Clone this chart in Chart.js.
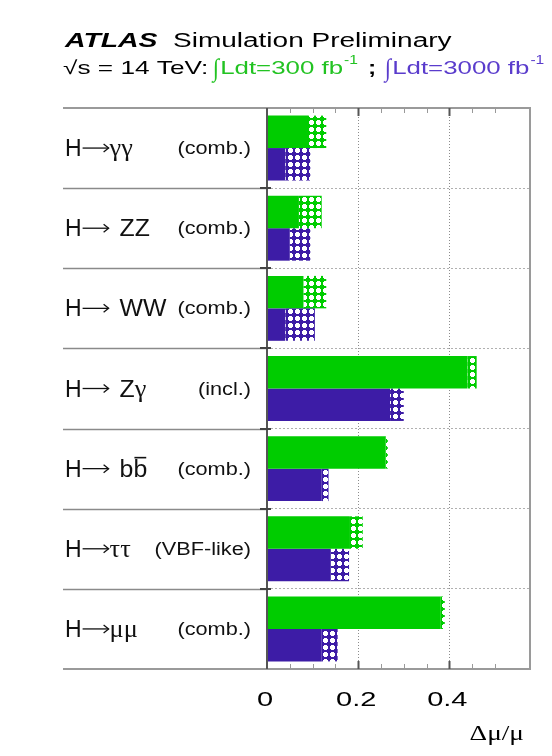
<!DOCTYPE html>
<html>
<head>
<meta charset="utf-8">
<script src="https://cdn.jsdelivr.net/npm/chart.js@4/dist/chart.umd.min.js"></script>
<style>
  html, body { margin: 0; padding: 0; background: #fff; }
  #wrap { width: 552px; height: 756px; }
</style>
</head>
<body>
<div id="wrap"><canvas id="c" width="552" height="756"></canvas></div>
<script>
// Higgs decay channels and the analysis category shown beside each one
const products = ['γγ', 'ZZ', 'WW', 'Zγ', 'bb\u0304', 'ττ', 'μμ'];
const categories = ['(comb.)', '(comb.)', '(comb.)', '(incl.)', '(comb.)', '(VBF-like)', '(comb.)'];
const arrowSpace = [false, true, true, true, true, false, false];

// Relative signal-strength precision Δμ/μ
// statistical + experimental only (solid) and including theory (hatched end)
const stat300   = [0.09, 0.07, 0.08, 0.44, 0.26, 0.18, 0.38];
const total300  = [0.13, 0.12, 0.13, 0.46, 0.265, 0.21, 0.39];
const stat3000  = [0.04, 0.05, 0.04, 0.27, 0.12, 0.14, 0.12];
const total3000 = [0.095, 0.095, 0.105, 0.30, 0.135, 0.18, 0.155];

const xTickLabels = ['0', '0.2', '0.4'];
const xTickValues = [0, 0.2, 0.4];

const GREEN = '#00cc00';
const PURPLE = '#3d1ca6';
const SANS = '"Liberation Sans", Arial, sans-serif';
const SERIF = '"Liberation Serif", "Times New Roman", serif';

// hatch pattern: white dots on the bar colour
function hatch(color) {
  const t = document.createElement('canvas');
  t.width = 7; t.height = 7;
  const g = t.getContext('2d');
  g.fillStyle = color; g.fillRect(0, 0, 7, 7);
  g.fillStyle = '#fff';
  g.fillRect(1, 2, 5, 3);
  g.fillRect(2, 1, 3, 5);
  return g.createPattern(t, 'repeat');
}

const ctx = document.getElementById('c').getContext('2d');
const extra300 = total300.map((v, i) => v - stat300[i]);
const extra3000 = total3000.map((v, i) => v - stat3000[i]);

function drawRun(c, x, y, text, font, color, sx) {
  c.font = font; c.fillStyle = color;
  c.save(); c.translate(x, y); c.scale(sx, 1); c.fillText(text, 0, 0); c.restore();
  return x + c.measureText(text).width * sx;
}

// thin ROOT-style arrow: long shaft, small open head
function drawArrow(c, x, y, len) {
  c.save();
  c.strokeStyle = '#111'; c.lineWidth = 1.3;
  c.beginPath(); c.moveTo(x, y); c.lineTo(x + len, y); c.stroke();
  c.beginPath(); c.moveTo(x + len - 5, y - 4); c.lineTo(x + len, y); c.lineTo(x + len - 5, y + 4); c.stroke();
  c.restore();
  return x + len;
}

const decor = {
  id: 'decor',
  beforeDatasetsDraw(chart) {
    const c = chart.ctx, a = chart.chartArea;
    c.save();
    // row separators in the label panel
    c.strokeStyle = '#8a8a8a'; c.lineWidth = 1.5;
    const step = (a.bottom - a.top) / products.length;
    for (let i = 1; i < products.length; i++) {
      const yy = Math.round(a.top + i * step) + 0.5;
      c.beginPath(); c.moveTo(63, yy); c.lineTo(a.left, yy); c.stroke();
    }
    c.restore();
  },
  afterDraw(chart) {
    const c = chart.ctx, a = chart.chartArea;
    const xs = chart.scales.x, ys = chart.scales.y;
    c.save();
    // frame
    c.strokeStyle = '#9a9a9a'; c.lineWidth = 2;
    c.beginPath();
    c.moveTo(63, a.top); c.lineTo(a.right, a.top); c.lineTo(a.right, a.bottom); c.lineTo(63, a.bottom);
    c.stroke();
    c.strokeStyle = '#555'; c.lineWidth = 2;
    c.beginPath(); c.moveTo(a.left, a.top); c.lineTo(a.left, a.bottom); c.stroke();
    // x ticks on top and bottom
    xs.ticks.forEach(t => {
      const v = t.value;
      const k = Math.round(v / 0.05);
      if (Math.abs(k * 0.05 - v) > 1e-6 || k === 0) return;
      const major = k % 4 === 0;
      const x = Math.round(xs.getPixelForValue(v)) + 0.5;
      const len = major ? 8 : 5;
      c.strokeStyle = major ? '#555' : '#999'; c.lineWidth = major ? 2 : 1;
      c.beginPath(); c.moveTo(x, a.top); c.lineTo(x, a.top + len); c.stroke();
      c.beginPath(); c.moveTo(x, a.bottom); c.lineTo(x, a.bottom - len); c.stroke();
    });
    // y ticks at row boundaries
    const step = (a.bottom - a.top) / products.length;
    c.strokeStyle = '#444'; c.lineWidth = 2;
    for (let i = 1; i < products.length; i++) {
      const yy = Math.round(a.top + i * step);
      c.beginPath(); c.moveTo(a.left - 7, yy); c.lineTo(a.left + 4, yy); c.stroke();
    }
    // x tick labels
    c.textBaseline = 'alphabetic';
    xTickLabels.forEach((lab, i) => {
      const px = xs.getPixelForValue(xTickValues[i]);
      c.font = '20px ' + SANS;
      const w = c.measureText(lab).width * 1.45;
      drawRun(c, px - w / 2 - 2, 706, lab, c.font, '#000', 1.45);
    });
    // axis title
    c.font = '21px ' + SERIF;
    const tw = c.measureText('Δμ/μ').width * 1.3;
    drawRun(c, 524 - tw, 740, 'Δμ/μ', c.font, '#000', 1.3);

    // channel labels
    products.forEach((p, i) => {
      const cy = ys.getPixelForValue(i);
      const base = cy + 8;
      let x = drawRun(c, 65, base, 'H', '23px ' + SANS, '#111', 1.0);
      x = drawArrow(c, x + 1, base - 8, 26);
      x += arrowSpace[i] ? 11 : 1;
      const chars = Array.from(p);
      let prevX = x;
      chars.forEach(ch => {
        if (ch === '\u0304') {
          c.strokeStyle = '#111'; c.lineWidth = 1.6;
          c.beginPath(); c.moveTo(prevX + 1, base - 19); c.lineTo(x - 1, base - 19); c.stroke();
          return;
        }
        prevX = x;
        const greek = /[α-ω]/.test(ch);
        x = drawRun(c, x, base, ch, greek ? '25px ' + SERIF : '23px ' + SANS, '#111', greek ? 1.05 : 1.08);
      });
      c.font = '17.5px ' + SANS;
      const w = c.measureText(categories[i]).width * 1.24;
      drawRun(c, 251 - w, base - 2, categories[i], c.font, '#111', 1.24);
    });

    // header
    drawRun(c, 65, 47, 'ATLAS', 'italic bold 20px ' + SANS, '#000', 1.42);
    drawRun(c, 173, 47, 'Simulation Preliminary', '20px ' + SANS, '#000', 1.4);
    drawRun(c, 63, 74, '√s = 14 TeV:', '19px ' + SANS, '#000', 1.38);
    const lumi = (x0, txt, col) => {
      let x = drawRun(c, x0, 76, '∫', '25px ' + SERIF, col, 0.9);
      x = drawRun(c, x + 1, 74, 'Ldt=' + txt + ' fb', '19px ' + SANS, col, 1.36);
      drawRun(c, x + 1, 64, '-1', '12px ' + SANS, col, 1.3);
    };
    lumi(213, '300', '#22c322');
    drawRun(c, 368, 74, ';', 'bold 19px ' + SANS, '#000', 1.3);
    lumi(385, '3000', '#5a3ccc');
    c.restore();
  }
};

new Chart(ctx, {
  type: 'bar',
  data: {
    labels: products,
    datasets: [
      { label: '300 stat', data: stat300, backgroundColor: GREEN, stack: 'l300' },
      { label: '300 theory', data: extra300, backgroundColor: hatch(GREEN), stack: 'l300' },
      { label: '3000 stat', data: stat3000, backgroundColor: PURPLE, stack: 'l3000' },
      { label: '3000 theory', data: extra3000, backgroundColor: hatch(PURPLE), stack: 'l3000' }
    ]
  },
  options: {
    indexAxis: 'y',
    responsive: false,
    animation: false,
    layout: { padding: { left: 267, right: 22, top: 108, bottom: 87 } },
    datasets: { bar: { barPercentage: 1.0, categoryPercentage: 0.81, borderWidth: 0 } },
    plugins: { legend: { display: false }, tooltip: { enabled: false } },
    scales: {
      x: {
        min: 0, max: 0.577,
        ticks: { display: false, stepSize: 0.05 },
        grid: {
          drawTicks: false, lineWidth: 1,
          color: c => (c.tick && (Math.abs(c.tick.value - 0.2) < 1e-6 || Math.abs(c.tick.value - 0.4) < 1e-6)) ? '#8c8c8c' : 'rgba(0,0,0,0)'
        },
        border: { display: false, dash: [1, 2] }
      },
      y: {
        ticks: { display: false },
        grid: { drawTicks: false, color: '#b0b0b0', lineWidth: 1 },
        border: { display: false, dash: [2, 2] }
      }
    }
  },
  plugins: [decor]
});
</script>
</body>
</html>
